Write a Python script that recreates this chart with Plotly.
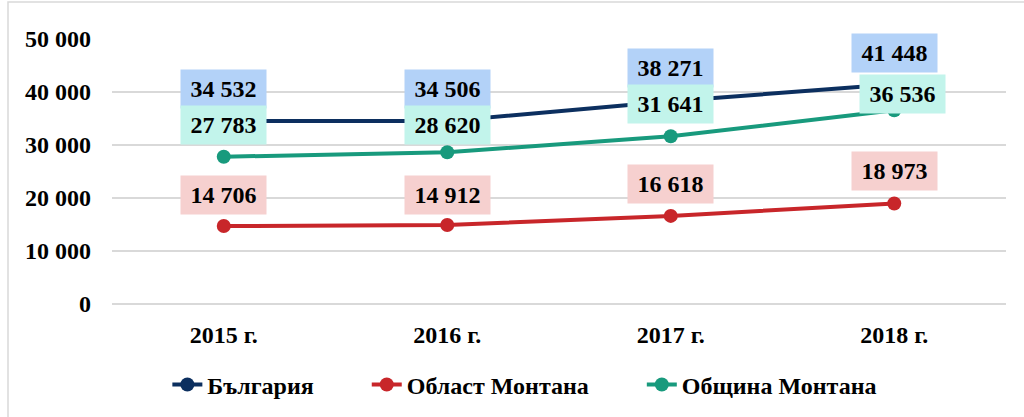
import plotly.graph_objects as go

categories = ["2015 г.", "2016 г.", "2017 г.", "2018 г."]
bulgaria = [34532, 34506, 38271, 41448]
oblast_montana = [14706, 14912, 16618, 18973]
obshtina_montana = [27783, 28620, 31641, 36536]
series_names = ["България", "Област Монтана", "Община Монтана"]
y_ticks = [0, 10000, 20000, 30000, 40000, 50000]

FONT = "Liberation Serif"
line_colors = ["#0C2F5F", "#C8262A", "#189A7D"]
label_bgs = ["#B3D2F8", "#F6D0CF", "#C2F4EB"]
label_yshift = [[32, 32, 33, 31], [31, 30, 32, 32], [32, 27, 32, 16]]
label_xshift = [[0, 0, 0, 0], [0, 0, 0, 0], [0, 0, 0, 8]]
NBSP = "\u00a0"


def fmt(v):
    return f"{v:,}".replace(",", " ")


fig = go.Figure()
all_series = [bulgaria, oblast_montana, obshtina_montana]
for name, vals, col in zip(series_names, all_series, line_colors):
    fig.add_trace(go.Scatter(
        x=categories, y=vals, name=f"<b>{name}</b>" + NBSP * 8,
        mode="lines+markers",
        line=dict(color=col, width=4),
        marker=dict(color=col, size=14),
    ))

annotations = []
for si, (vals, bg) in enumerate(zip(all_series, label_bgs)):
    for ci, (c, v) in enumerate(zip(categories, vals)):
        annotations.append(dict(
            x=c, y=v, xref="x", yref="y", text=f"<b>{fmt(v)}</b>",
            showarrow=False, bgcolor=bg, width=83, height=36,
            yshift=label_yshift[si][ci], xshift=label_xshift[si][ci],
            font=dict(family=FONT, size=24, color="black"),
        ))

fig.update_layout(
    width=1024, height=417,
    margin=dict(l=112, r=18, t=39, b=113),
    paper_bgcolor="white", plot_bgcolor="white",
    font=dict(family=FONT, size=24, color="black"),
    showlegend=True,
    legend=dict(orientation="h", xref="container", yref="container",
                x=0.536, xanchor="center", y=0.077, yanchor="middle",
                font=dict(family=FONT, size=24, color="black"),
                bgcolor="rgba(0,0,0,0)"),
    annotations=annotations,
    shapes=[dict(type="rect", xref="paper", yref="paper",
                 x0=(8 - 112) / 894, x1=(1040 - 112) / 894,
                 y0=(304 - 440) / 265, y1=(304 - 2) / 265,
                 line=dict(color="#D9D9D9", width=1.5), layer="below")],
)
fig.update_xaxes(range=[-0.5, 3.5], showgrid=False, showline=False, ticks="",
                 tickfont=dict(family=FONT, size=24, color="black"),
                 tickprefix="<b>", ticksuffix="</b>", ticklabelstandoff=14)
fig.update_yaxes(range=[0, 50000], tickvals=y_ticks,
                 ticktext=[f"<b>{fmt(t)}</b>" for t in y_ticks],
                 showgrid=True, gridcolor="#D9D9D9", gridwidth=1.5,
                 zeroline=True, zerolinecolor="#D9D9D9", zerolinewidth=1.5,
                 showline=False, ticks="", ticklabelstandoff=20,
                 tickfont=dict(family=FONT, size=24, color="black"))

fig.write_html("out.html", config={"displayModeBar": False},
               post_script="document.body.style.margin='0';")
